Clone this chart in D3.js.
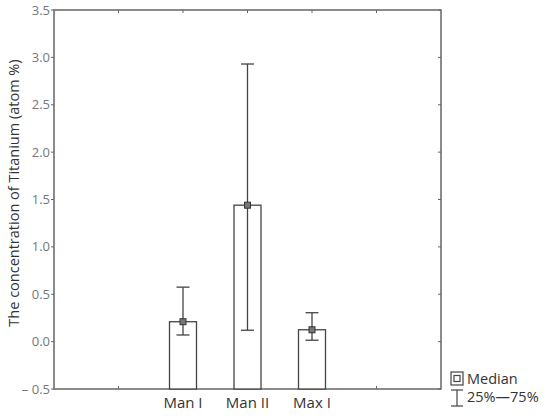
<!DOCTYPE html>
<html>
<head>
<meta charset="utf-8">
<script src="https://cdn.jsdelivr.net/npm/d3@7"></script>
<style>
  body { margin: 0; background: #fff; }
  text { font-family: "Open Sans", "DejaVu Sans", sans-serif; }
</style>
</head>
<body>
<div id="chart"></div>
<script>
const categories = ["Man I", "Man II", "Max I"];
const medians = [0.21, 1.44, 0.125];
const q25 = [0.07, 0.12, 0.015];
const q75 = [0.575, 2.93, 0.305];
const yTicks = [-0.5, 0, 0.5, 1, 1.5, 2, 2.5, 3, 3.5];

const width = 550, height = 417;
const margin = { top: 10, right: 109, bottom: 28, left: 54 };

const svg = d3.select("#chart").append("svg")
  .attr("width", width)
  .attr("height", height);

// slot positions 0..6, categories sit at 2,3,4
const x = d3.scaleLinear().domain([0, 6]).range([margin.left, width - margin.right]);
const y = d3.scaleLinear().domain([-0.5, 3.5]).range([height - margin.bottom, margin.top]);

const axisColor = "#666";
const barW = 27, capW = 13;

// frame
svg.append("rect")
  .attr("x", x(0)).attr("y", y(3.5))
  .attr("width", x(6) - x(0)).attr("height", y(-0.5) - y(3.5))
  .attr("fill", "none").attr("stroke", axisColor).attr("stroke-width", 1.5);

// y axis ticks and labels
yTicks.forEach(t => {
  svg.append("line")
    .attr("x1", x(0) - 3).attr("x2", x(0))
    .attr("y1", y(t)).attr("y2", y(t))
    .attr("stroke", axisColor);
  svg.append("line")
    .attr("x1", x(6) - 3).attr("x2", x(6))
    .attr("y1", y(t)).attr("y2", y(t))
    .attr("stroke", axisColor);
  svg.append("text")
    .attr("x", x(0) - 4).attr("y", y(t))
    .attr("dy", "0.35em")
    .attr("text-anchor", "end")
    .attr("font-size", 13)
    .attr("fill", "#777")
    .text(t < 0 ? "\u2013 " + d3.format(".1f")(-t) : d3.format(".1f")(t));
});

// x ticks (inward, top and bottom)
[1, 2, 3, 4, 5].forEach(p => {
  svg.append("line")
    .attr("x1", x(p)).attr("x2", x(p))
    .attr("y1", y(-0.5)).attr("y2", y(-0.5) - 3)
    .attr("stroke", axisColor);
  svg.append("line")
    .attr("x1", x(p)).attr("x2", x(p))
    .attr("y1", y(3.5)).attr("y2", y(3.5) + 3)
    .attr("stroke", axisColor);
});

// category labels
categories.forEach((c, i) => {
  svg.append("text")
    .attr("x", x(i + 2)).attr("y", 408)
    .attr("text-anchor", "middle")
    .attr("font-size", 15)
    .attr("fill", "#333")
    .text(c);
});

// y axis title
svg.append("text")
  .attr("transform", `translate(19, 193) rotate(-90)`)
  .attr("text-anchor", "middle")
  .attr("font-size", 14.5)
  .attr("fill", "#333")
  .text("The concentration of Titanium (atom %)");

const g = svg.append("g");

// bars from 0 to median
g.selectAll("rect.bar")
  .data(medians)
  .enter()
  .append("rect")
  .attr("class", "bar")
  .attr("x", (d, i) => x(i + 2) - barW / 2)
  .attr("y", d => y(d))
  .attr("width", barW)
  .attr("height", d => y(-0.5) - y(d))
  .attr("fill", "#fff")
  .attr("stroke", "#444")
  .attr("stroke-width", 1.3);

// whiskers
categories.forEach((c, i) => {
  const cx = x(i + 2);
  g.append("line")
    .attr("x1", cx).attr("x2", cx)
    .attr("y1", y(q25[i])).attr("y2", y(q75[i]))
    .attr("stroke", "#444").attr("stroke-width", 1.3);
  [q25[i], q75[i]].forEach(v => {
    g.append("line")
      .attr("x1", cx - capW / 2).attr("x2", cx + capW / 2)
      .attr("y1", y(v)).attr("y2", y(v))
      .attr("stroke", "#444").attr("stroke-width", 1.3);
  });
  g.append("rect")
    .attr("x", cx - 3).attr("y", y(medians[i]) - 3)
    .attr("width", 6).attr("height", 6)
    .attr("fill", "#777")
    .attr("stroke", "#333");
});

// legend
const lg = svg.append("g");
lg.append("rect")
  .attr("x", 451).attr("y", 372).attr("width", 12).attr("height", 13)
  .attr("fill", "#fff").attr("stroke", "#444").attr("stroke-width", 1.2);
lg.append("rect")
  .attr("x", 454).attr("y", 375.5).attr("width", 6).attr("height", 6)
  .attr("fill", "#fff").attr("stroke", "#444").attr("stroke-width", 1.2);
lg.append("text")
  .attr("x", 467).attr("y", 384)
  .attr("font-size", 14.5).attr("fill", "#333")
  .text("Median");
lg.append("line")
  .attr("x1", 457).attr("x2", 457).attr("y1", 390).attr("y2", 406)
  .attr("stroke", "#444").attr("stroke-width", 1.2);
lg.append("line")
  .attr("x1", 451).attr("x2", 463).attr("y1", 390).attr("y2", 390)
  .attr("stroke", "#444").attr("stroke-width", 1.2);
lg.append("line")
  .attr("x1", 451).attr("x2", 463).attr("y1", 406).attr("y2", 406)
  .attr("stroke", "#444").attr("stroke-width", 1.2);
lg.append("text")
  .attr("x", 467).attr("y", 402)
  .attr("font-size", 14.5).attr("fill", "#333")
  .text("25%\u201475%");
</script>
</body>
</html>
